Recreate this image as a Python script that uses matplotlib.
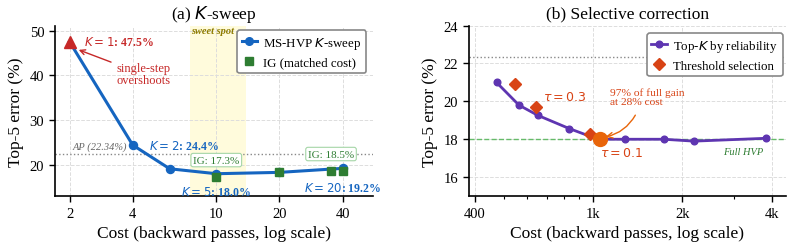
import numpy as np
import matplotlib
matplotlib.use("Agg")
import matplotlib.pyplot as plt
from matplotlib.ticker import FixedLocator, FixedFormatter, NullLocator, NullFormatter, LogLocator

# ---- data: panel (a) K-sweep ----
k_cost = [2, 4, 6, 10, 20, 40]
k_err = [47.5, 24.4, 19.1, 18.0, 18.3, 19.2]
ig_cost = [10, 20, 35, 40]
ig_err = [17.3, 18.3, 18.5, 18.7]
ap_err = 22.34
sweet_lo, sweet_hi = 7.5, 13.8
a_xticks = [2, 4, 10, 20, 40]
a_xticklabels = ["2", "4", "10", "20", "40"]
a_yticks = [20, 30, 40, 50]

# ---- data: panel (b) selective correction ----
topk_cost = [473, 563, 652, 833, 1040, 1285, 1732, 2189, 3826]
topk_err = [21.0, 19.8, 19.26, 18.56, 18.0, 18.0, 18.0, 17.9, 18.05]
thr_cost = [547, 641, 978]
thr_err = [20.93, 19.7, 18.3]
best_cost, best_err = 1057, 18.0
full_hvp = 18.0
b_xticks = [400, 1000, 2000, 4000]
b_xticklabels = ["400", "1k", "2k", "4k"]
b_yticks = [16, 18, 20, 22, 24]

plt.rcParams['font.family'] = ['Liberation Serif', 'DejaVu Sans']
plt.rcParams['mathtext.fontset'] = 'dejavusans'

BLUE = '#1565C0'
RED = '#C62828'
GREEN = '#2E7D32'
PURPLE = '#5E35B1'
ORANGE = '#D84315'
ORANGE2 = '#E8650A'

fig = plt.figure(figsize=(7.93, 2.53), dpi=100)
ax1 = fig.add_axes([0.069, 0.221, 0.401, 0.672])
ax2 = fig.add_axes([0.591, 0.221, 0.400, 0.674])

for ax in (ax1, ax2):
    ax.spines['top'].set_visible(False)
    ax.spines['right'].set_visible(False)
    ax.spines['left'].set_linewidth(1.2)
    ax.spines['bottom'].set_linewidth(1.2)
    ax.set_xscale('log')
    ax.grid(True, which='major', linestyle='--', color='#dddddd', linewidth=0.7)
    ax.set_axisbelow(True)
    ax.tick_params(labelsize=10.5, length=4, width=1)

# ---- panel (a) ----
ax1.axvspan(sweet_lo, sweet_hi, color='#FFF59D', alpha=0.35, lw=0, zorder=0)
ax1.axhline(ap_err, color='#888888', ls=':', lw=1.0, zorder=1)
ax1.plot(k_cost, k_err, color=BLUE, lw=2.2, zorder=3)
ax1.plot(k_cost[1:], k_err[1:], 'o', color=BLUE, ms=5.8, zorder=3)
ax1.plot(k_cost[0], k_err[0], '^', color=RED, ms=9, zorder=5)
ax1.plot(ig_cost, ig_err, 's', color=GREEN, ms=5.8, zorder=4)

ax1.set_xlim(1.7, 55.6)
ax1.set_ylim(13, 51)
ax1.xaxis.set_major_locator(FixedLocator(a_xticks))
ax1.xaxis.set_major_formatter(FixedFormatter(a_xticklabels))
ax1.xaxis.set_minor_locator(NullLocator())
ax1.set_yticks(a_yticks)
ax1.set_xlabel('Cost (backward passes, log scale)', fontsize=12.5)
ax1.set_ylabel('Top-5 error (%)', fontsize=12.5)
ax1.set_title('(a) $K$-sweep', fontsize=12.5, pad=6)

ax1.text(2.35, 47.55, '$K=1$: 47.5%', color=RED, fontsize=8.5, fontweight='bold',
         ha='left', va='center')
ax1.annotate('single-step\novershoots', xy=(2.15, 45.9), xytext=(4.5, 40.2),
             color=RED, fontsize=9, ha='center', va='center', linespacing=1.0,
             arrowprops=dict(arrowstyle='->', color=RED, lw=1.0))
ax1.text(2.06, 24.1, 'AP (22.34%)', color='#666666', fontsize=7.5, style='italic',
         ha='left', va='center', zorder=2)
ax1.text(4.76, 24.2, '$K=2$: 24.4%', color=BLUE, fontsize=8.5, fontweight='bold',
         ha='left', va='center')
ax1.text(10, 14.0, '$K=5$: 18.0%', color=BLUE, fontsize=8.5, fontweight='bold',
         ha='center', va='center')
ax1.text(40, 15.0, '$K=20$: 19.2%', color=BLUE, fontsize=8.5, fontweight='bold',
         ha='center', va='center')
box = dict(boxstyle='round,pad=0.2', fc='white', ec='#A5D6A7', lw=0.8)
ax1.text(10, 21.05, 'IG: 17.3%', color=GREEN, fontsize=8, ha='center', va='center', bbox=box, zorder=6)
ax1.text(35.2, 22.4, 'IG: 18.5%', color=GREEN, fontsize=8, ha='center', va='center', bbox=box, zorder=6)
ax1.text(9.6, 49.9, 'sweet spot', color='#8D7B00', fontsize=7.5, style='italic',
         fontweight='bold', ha='center', va='center')

h1 = [plt.Line2D([], [], color=BLUE, lw=2.2, marker='o', ms=5.5),
      plt.Line2D([], [], color=GREEN, lw=0, marker='s', ms=6)]
leg1 = ax1.legend(h1, ['MS-HVP $K$-sweep', 'IG (matched cost)'], loc='upper right',
                  bbox_to_anchor=(0.98, 0.975), fontsize=9.3, handlelength=1.2,
                  frameon=True, fancybox=True, edgecolor='#888888', framealpha=1,
                  borderpad=0.35, labelspacing=0.45, handletextpad=0.5,
                  borderaxespad=0.0)
leg1.get_frame().set_linewidth(1.2)
leg1.set_zorder(7)

# ---- panel (b) ----
ax2.axhline(ap_err, color='#888888', ls=':', lw=1.0, zorder=1)
ax2.axhline(full_hvp, color='#66BB6A', ls='--', lw=1.0, zorder=1)
ax2.plot(topk_cost, topk_err, '-o', color=PURPLE, lw=2.0, ms=4.8, zorder=3)
ax2.plot(thr_cost, thr_err, 'D', color=ORANGE, ms=6.2, zorder=4)
ax2.plot(best_cost, best_err, 'o', color=ORANGE2, ms=10, zorder=5)

ax2.set_xlim(381, 4470)
ax2.set_ylim(15, 24)
ax2.xaxis.set_major_locator(FixedLocator(b_xticks))
ax2.xaxis.set_major_formatter(FixedFormatter(b_xticklabels))
ax2.xaxis.set_minor_locator(LogLocator(base=10, subs=np.arange(2, 10)))
ax2.xaxis.set_minor_formatter(NullFormatter())
ax2.tick_params(which='minor', length=2.5, width=0.8)
ax2.set_yticks(b_yticks)
ax2.set_xlabel('Cost (backward passes, log scale)', fontsize=12.5)
ax2.set_ylabel('Top-5 error (%)', fontsize=12.5)
ax2.set_title('(b) Selective correction', fontsize=12.5, pad=6)

ax2.text(806, 20.23, r'$\tau=0.3$', color=ORANGE, fontsize=9, ha='center', va='center')
ax2.text(1248, 17.3, r'$\tau=0.1$', color=ORANGE, fontsize=9, ha='center', va='center')
ax2.text(1143, 20.25, '97% of full gain\nat 28% cost', color=ORANGE, fontsize=8.2,
         ha='left', va='center', linespacing=1.0)
ax2.annotate('', xy=(1080, 18.1), xytext=(1404, 19.4),
             arrowprops=dict(arrowstyle='->', color=ORANGE2, lw=1.0,
                             connectionstyle='arc3,rad=-0.25'))
ax2.text(3743, 17.35, 'Full HVP', color=GREEN, fontsize=7.5, style='italic',
         ha='right', va='center')

h2 = [plt.Line2D([], [], color=PURPLE, lw=2.0, marker='o', ms=4.8),
      plt.Line2D([], [], color=ORANGE, lw=0, marker='D', ms=6.5)]
leg2 = ax2.legend(h2, ['Top-$K$ by reliability', 'Threshold selection'], loc='upper right',
                  bbox_to_anchor=(0.99, 0.955), fontsize=9.3, handlelength=1.2,
                  frameon=True, fancybox=True, edgecolor='#888888', framealpha=1,
                  borderpad=0.35, labelspacing=0.45, handletextpad=0.5,
                  borderaxespad=0.0)
leg2.get_frame().set_linewidth(1.2)

fig.savefig('out.png', dpi=100)
